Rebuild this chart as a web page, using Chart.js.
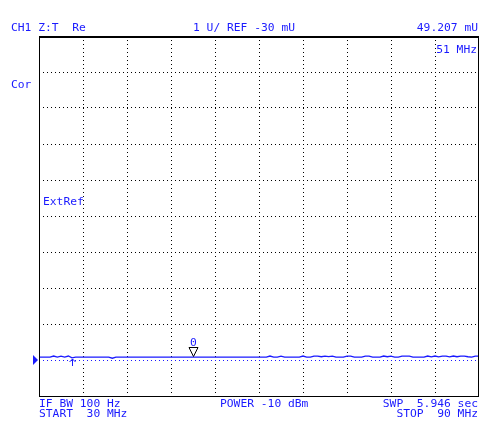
<!DOCTYPE html>
<html>
<head>
<meta charset="utf-8">
<title>CH1 Z:T Re</title>
<script src="https://cdn.jsdelivr.net/npm/chart.js@4/dist/chart.umd.min.js"></script>
<style>
  html, body { margin: 0; padding: 0; background: #fff; }
  #chart { display: block; }
</style>
</head>
<body>
<canvas id="chart" width="497" height="435"></canvas>
<script>
// sweep
const startFreq = 30;   // MHz
const stopFreq = 90;    // MHz
const freqStep = 0.5;   // MHz between trace points

// Re(Z) trace, U (121 points, 30..90 MHz)
const traceValues = [
  0.050, 0.049, 0.051, 0.050, 0.080, 0.052, 0.079, 0.051, 0.080, 0.030,
  0.049, 0.050, 0.051, 0.049, 0.050, 0.050, 0.051, 0.049, 0.050, 0.050,
  0.020, 0.049, 0.050, 0.051, 0.050, 0.049, 0.050, 0.051, 0.050, 0.049,
  0.050, 0.050, 0.051, 0.049, 0.050, 0.050, 0.051, 0.049, 0.050, 0.050,
  0.049, 0.050, 0.049, 0.050, 0.051, 0.050, 0.049, 0.050, 0.051, 0.050,
  0.049, 0.050, 0.050, 0.051, 0.049, 0.050, 0.050, 0.051, 0.049, 0.050,
  0.050, 0.051, 0.050, 0.080, 0.051, 0.050, 0.079, 0.050, 0.049, 0.051,
  0.050, 0.050, 0.080, 0.051, 0.050, 0.078, 0.080, 0.060, 0.080, 0.065,
  0.080, 0.052, 0.050, 0.050, 0.079, 0.080, 0.051, 0.050, 0.049, 0.080,
  0.079, 0.050, 0.051, 0.050, 0.080, 0.060, 0.079, 0.050, 0.051, 0.080,
  0.080, 0.078, 0.050, 0.051, 0.049, 0.050, 0.080, 0.055, 0.080, 0.055,
  0.079, 0.080, 0.055, 0.080, 0.060, 0.080, 0.079, 0.060, 0.050, 0.080,
  0.080
];

// graticule: 10 divisions each way, 1 U/div, REF -30 mU one division above bottom
const refValue = -0.03;
const xTicks = [30, 36, 42, 48, 54, 60, 66, 72, 78, 84, 90];
const yTicks = [-1.03, -0.03, 0.97, 1.97, 2.97, 3.97, 4.97, 5.97, 6.97, 7.97, 8.97];

// markers
const markerFreq = 51;
const markerValue = 0.049207;
const arrowFreq = 34.5;

const BLUE = '#1a1aff';
const FONT = '11.3px "DejaVu Sans Mono", "Liberation Mono", monospace';

const tracePoints = traceValues.map((v, i) => ({ x: startFreq + i * freqStep, y: v }));

function gridColor(edgeMin, edgeMax) {
  return ctx => {
    const v = ctx.tick ? ctx.tick.value : null;
    if (v === edgeMin || v === edgeMax) return 'rgba(0,0,0,0)';
    if (v === refValue) return BLUE;
    return '#000';
  };
}

const annotations = {
  id: 'annotations',
  afterDraw(chart) {
    const { ctx, chartArea: a, scales } = chart;
    const xs = scales.x, ys = scales.y;
    ctx.save();

    // frame
    ctx.strokeStyle = '#000';
    ctx.lineWidth = 1;
    ctx.strokeRect(Math.round(a.left) + 0.5, Math.round(a.top) + 0.5,
      Math.round(a.right - a.left) - 1, Math.round(a.bottom - a.top));
    ctx.beginPath();
    ctx.moveTo(a.left, Math.round(a.top) + 1.5);
    ctx.lineTo(a.right, Math.round(a.top) + 1.5);
    ctx.stroke();

    // reference level pointer
    const ry = ys.getPixelForValue(refValue);
    ctx.fillStyle = BLUE;
    ctx.beginPath();
    ctx.moveTo(a.left - 6, ry - 5);
    ctx.lineTo(a.left - 6, ry + 5);
    ctx.lineTo(a.left - 1, ry);
    ctx.closePath();
    ctx.fill();

    // marker 0
    const mx = Math.round(xs.getPixelForValue(markerFreq)) + 0.5;
    const my = Math.round(ys.getPixelForValue(markerValue));
    ctx.strokeStyle = '#000';
    ctx.beginPath();
    ctx.moveTo(mx - 4.5, my - 9.5);
    ctx.lineTo(mx + 4.5, my - 9.5);
    ctx.lineTo(mx, my - 0.5);
    ctx.closePath();
    ctx.stroke();
    ctx.font = FONT;
    ctx.textAlign = 'center';
    ctx.textBaseline = 'alphabetic';
    ctx.fillText('0', mx, my - 11);

    // small arrow under the trace
    const ax = Math.round(xs.getPixelForValue(arrowFreq)) + 0.5;
    ctx.strokeStyle = BLUE;
    ctx.beginPath();
    ctx.moveTo(ax, ry - 1);
    ctx.lineTo(ax, ry + 6);
    ctx.moveTo(ax - 3, ry + 2);
    ctx.lineTo(ax, ry - 1);
    ctx.lineTo(ax + 3, ry + 2);
    ctx.stroke();

    // annotation texts
    ctx.fillStyle = BLUE;
    ctx.textAlign = 'left';
    ctx.fillText('CH1 Z:T  Re', 11, 31);
    ctx.fillText('1 U/ REF -30 mU', 193, 31);
    ctx.fillText('Cor', 11, 88);
    ctx.fillText('ExtRef', 43, 205);
    ctx.fillText('IF BW 100 Hz', 39, 407);
    ctx.fillText('START  30 MHz', 39, 417);
    ctx.fillText('POWER -10 dBm', 220, 407);
    ctx.textAlign = 'right';
    ctx.fillText('49.207 mU', 478, 31);
    ctx.fillText('51 MHz', 477, 53);
    ctx.fillText('SWP  5.946 sec', 478, 407);
    ctx.fillText('STOP  90 MHz', 478, 417);

    ctx.restore();
  }
};

new Chart(document.getElementById('chart').getContext('2d'), {
  type: 'line',
  data: {
    datasets: [{
      data: tracePoints,
      borderColor: BLUE,
      borderWidth: 1.3,
      pointRadius: 0,
      tension: 0,
      fill: false
    }]
  },
  options: {
    responsive: false,
    animation: false,
    devicePixelRatio: 1,
    layout: { padding: { left: 39, top: 36, right: 18, bottom: 39 } },
    plugins: {
      legend: { display: false },
      tooltip: { enabled: false }
    },
    scales: {
      x: {
        type: 'linear',
        min: startFreq,
        max: stopFreq,
        afterBuildTicks: s => { s.ticks = xTicks.map(v => ({ value: v })); },
        ticks: { display: false },
        grid: { color: gridColor(startFreq, stopFreq), lineWidth: 1, drawTicks: false },
        border: { display: false, dash: [1, 3] }
      },
      y: {
        type: 'linear',
        min: yTicks[0],
        max: yTicks[yTicks.length - 1],
        afterBuildTicks: s => { s.ticks = yTicks.map(v => ({ value: v })); },
        ticks: { display: false },
        grid: { color: gridColor(yTicks[0], yTicks[yTicks.length - 1]), lineWidth: 1, drawTicks: false },
        border: { display: false, dash: [1, 3] }
      }
    }
  },
  plugins: [annotations]
});
</script>
</body>
</html>
